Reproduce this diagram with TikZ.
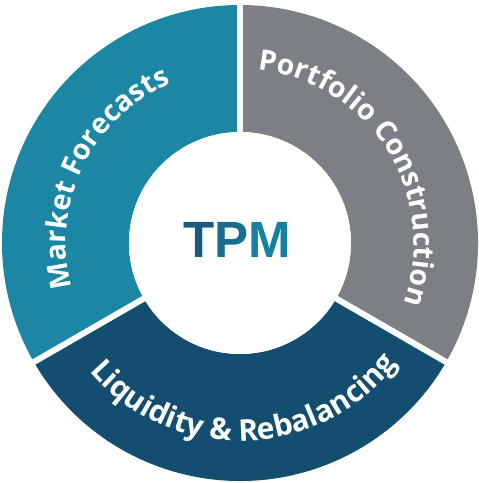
\documentclass[tikz,border=0pt]{standalone}
\usepackage{fontspec}
\usepackage{xcolor}
\usetikzlibrary{decorations.text}

\newfontfamily\ringfont{Open Sans}
\newfontfamily\hubfont{Liberation Sans}
\newcommand{\segfont}{\ringfont\bfseries\fontsize{28.5}{30}\selectfont}
\newcommand{\basefont}{\ringfont\bfseries\fontsize{30}{31}\selectfont}

\definecolor{forecastteal}{HTML}{1B87A4}
\definecolor{portfoliogray}{HTML}{7C7F83}
\definecolor{liquidityblue}{HTML}{134E70}
\definecolor{hubT}{HTML}{1B5A7E}
\definecolor{hubP}{HTML}{186C8F}
\definecolor{hubM}{HTML}{1581A1}

\tikzset{
  ringtext/.style={decorate, decoration={text along path, text align=center, text color=white, text={#1}}}
}

\begin{document}
\begin{tikzpicture}[x=1pt,y=1pt]
% Frame
\useasboundingbox (-240,-240) rectangle (239,243);

% Market Forecasts
\fill[forecastteal] (90:238) arc[start angle=90, end angle=210, radius=238] -- (210:111) arc[start angle=210, end angle=90, radius=111] -- cycle;

% Portfolio Construction
\fill[portfoliogray] (-30:238) arc[start angle=-30, end angle=90, radius=238] -- (90:111) arc[start angle=90, end angle=-30, radius=111] -- cycle;

% Liquidity & Rebalancing
\fill[liquidityblue] (210:238) arc[start angle=210, end angle=330, radius=238] -- (330:111) arc[start angle=330, end angle=210, radius=111] -- cycle;

% Gaps
\foreach \a in {90,-30,210} {
  \draw[white, line width=6pt] (0,0) -- (\a:242);
}

% Hub
\fill[white] (0,0) circle (111);
\node (hub) at (-3,3) {\hubfont\bfseries\fontsize{51}{51}\selectfont\textcolor{hubT}{T}\textcolor{hubP}{P}\textcolor{hubM}{M}};

% Labels
\path[ringtext={|\segfont|Market Forecasts}] (214:174) arc[start angle=214, end angle=94, radius=174];
\path[ringtext={|\segfont|Portfolio Construction}] (92:174) arc[start angle=92, end angle=-28, radius=174];
\path[ringtext={|\basefont|Liquidity {\&} Rebalancing}] (201:198) arc[start angle=201, end angle=342, radius=198];
\end{tikzpicture}
\end{document}
